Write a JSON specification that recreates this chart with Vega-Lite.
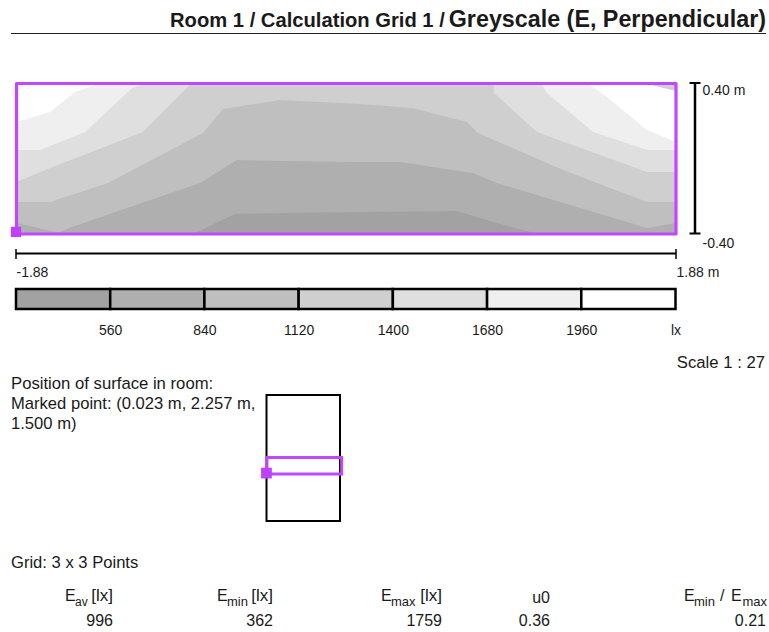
{"$schema":"https://vega.github.io/schema/vega-lite/v6.json","width":769,"height":632,"padding":0,"autosize":"none","background":"white",
"config":{"view":{"stroke":null},"text":{"font":"Liberation Sans","fontSize":16,"color":"#1a1a1a"},"axis":{"labelFont":"Liberation Sans","labelFontSize":16,"labelColor":"#1a1a1a","labelFontWeight":"normal"}},
"resolve":{"scale":{"x":"independent","y":"independent"}},
"layer":[
{"data":{"values":[
{"contour":1960,"x":-1.88,"y":0.195},{"contour":1960,"x":-1.689,"y":0.249},{"contour":1960,"x":-1.546,"y":0.355},{"contour":1960,"x":-1.432,"y":0.392},{"contour":1960,"x":-1.404,"y":0.40},{"contour":1960,"x":1.378,"y":0.40},{"contour":1960,"x":1.390,"y":0.392},{"contour":1960,"x":1.487,"y":0.328},{"contour":1960,"x":1.715,"y":0.153},{"contour":1960,"x":1.88,"y":0.089},
{"contour":1680,"x":-1.88,"y":0.047},{"contour":1680,"x":-1.746,"y":0.047},{"contour":1680,"x":-1.489,"y":0.142},{"contour":1680,"x":-1.221,"y":0.376},{"contour":1680,"x":-1.142,"y":0.40},{"contour":1680,"x":1.105,"y":0.40},{"contour":1680,"x":1.116,"y":0.392},{"contour":1680,"x":1.144,"y":0.350},{"contour":1680,"x":1.407,"y":0.142},{"contour":1680,"x":1.715,"y":0.047},{"contour":1680,"x":1.88,"y":0.047},
{"contour":1400,"x":-1.88,"y":-0.124},{"contour":1400,"x":-1.689,"y":-0.049},{"contour":1400,"x":-1.159,"y":0.142},{"contour":1400,"x":-0.891,"y":0.392},{"contour":1400,"x":-0.880,"y":0.40},{"contour":1400,"x":0.84,"y":0.40},{"contour":1400,"x":0.842,"y":0.35},{"contour":1400,"x":1.087,"y":0.142},{"contour":1400,"x":1.715,"y":-0.070},{"contour":1400,"x":1.88,"y":-0.070},
{"contour":1120,"x":-1.88,"y":-0.230},{"contour":1120,"x":-1.689,"y":-0.230},{"contour":1120,"x":-1.358,"y":-0.129},{"contour":1120,"x":-0.817,"y":0.137},{"contour":1120,"x":-0.703,"y":0.264},{"contour":1120,"x":-0.378,"y":0.312},{"contour":1120,"x":-0.150,"y":0.302},{"contour":1120,"x":0.078,"y":0.291},{"contour":1120,"x":0.375,"y":0.270},{"contour":1120,"x":0.688,"y":0.195},{"contour":1120,"x":0.751,"y":0.137},{"contour":1120,"x":1.236,"y":-0.060},{"contour":1120,"x":1.715,"y":-0.230},{"contour":1120,"x":1.88,"y":-0.230},
{"contour":840,"x":-1.88,"y":-0.342},{"contour":840,"x":-1.643,"y":-0.392},{"contour":840,"x":-1.564,"y":-0.363},{"contour":840,"x":-0.834,"y":-0.129},{"contour":840,"x":-0.623,"y":-0.007},{"contour":840,"x":-0.361,"y":-0.012},{"contour":840,"x":0.078,"y":-0.017},{"contour":840,"x":0.306,"y":-0.017},{"contour":840,"x":0.722,"y":-0.076},{"contour":840,"x":0.859,"y":-0.129},{"contour":840,"x":1.715,"y":-0.368},{"contour":840,"x":1.88,"y":-0.342},
{"contour":560,"x":-0.874,"y":-0.40},{"contour":560,"x":-0.634,"y":-0.294},{"contour":560,"x":-0.361,"y":-0.288},{"contour":560,"x":0.078,"y":-0.283},{"contour":560,"x":0.631,"y":-0.278},{"contour":560,"x":0.859,"y":-0.342},{"contour":560,"x":1.093,"y":-0.40}
]},
"mark":{"type":"area","orient":"vertical","interpolate":"linear","opacity":1},
"encoding":{"x":{"field":"x","type":"quantitative","sort":null,"scale":{"domain":[-1.88,1.88],"range":[16.5,676]},"axis":null},
"y":{"field":"y","type":"quantitative","scale":{"domain":[-0.4,0.4],"range":[234,83.5]},"axis":null},
"y2":{"datum":-0.4},
"detail":{"field":"contour"},
"fill":{"field":"contour","type":"nominal","legend":null,"sort":null,"scale":{"domain":[560,840,1120,1400,1680,1960,2240],"range":["#a2a2a2","#afafaf","#bfbfbf","#cfcfcf","#dfdfdf","#efefef","#ffffff"]}}}},
{"data":{"values":[{"x":1.703,"y":0.40},{"x":1.88,"y":0.36}]},
"mark":{"type":"area","orient":"vertical","fill":"#cfcfcf"},
"encoding":{"x":{"field":"x","type":"quantitative","scale":{"domain":[-1.88,1.88],"range":[16.5,676]},"axis":null},
"y":{"field":"y","type":"quantitative","scale":{"domain":[-0.4,0.4],"range":[234,83.5]},"axis":null},"y2":{"datum":0.4}}},
{"data":{"values":[{"x0":-1.88,"x1":1.88,"y0":-0.4,"y1":0.4}]},
"mark":{"type":"rect","fill":null,"stroke":"#c247ff","strokeWidth":3.2,"strokeJoin":"round"},
"encoding":{"x":{"field":"x0","type":"quantitative","scale":{"domain":[-1.88,1.88],"range":[16.5,676]},"axis":null},"x2":{"field":"x1"},
"y":{"field":"y0","type":"quantitative","scale":{"domain":[-0.4,0.4],"range":[234,83.5]},"axis":null},"y2":{"field":"y1"}}},
{"data":{"values":[{"x":-1.88,"y":-0.389}]},
"mark":{"type":"square","size":105,"opacity":1,"color":"#c040ff"},
"encoding":{"x":{"field":"x","type":"quantitative","scale":{"domain":[-1.88,1.88],"range":[16,676]},"axis":null},
"y":{"field":"y","type":"quantitative","scale":{"domain":[-0.4,0.4],"range":[234,83.5]},"axis":null}}},

{"data":{"values":[{"a":-0.4,"b":0.4}]},"mark":{"type":"rule","color":"#000","strokeWidth":2.5},
"encoding":{"y":{"field":"a","type":"quantitative","scale":{"domain":[-0.4,0.4],"range":[233.5,83]},"axis":null},"y2":{"field":"b"},
"x":{"datum":695,"type":"quantitative","scale":{"domain":[0,769]},"axis":null}}},
{"data":{"values":[{"end":-0.4},{"end":0.4}]},"mark":{"type":"rule","color":"#000","strokeWidth":2},
"encoding":{"y":{"field":"end","type":"quantitative","scale":{"domain":[-0.4,0.4],"range":[233.5,83]},
"axis":{"orient":"right","title":null,"values":[-0.4,0.4],"domain":false,"ticks":false,"grid":false,"labelAlign":"left","labelPadding":0,"offset":-67,"labelFontSize":14,"labelOffset":{"condition":{"test":"datum.value>0","value":7},"value":10},"labelExpr":"datum.value>0?'0.40 m':'-0.40'"}},
"x":{"datum":689.5,"type":"quantitative","scale":{"domain":[0,769]},"axis":null},"x2":{"datum":700.5}}},

{"data":{"values":[{"a":-1.88,"b":1.88}]},"mark":{"type":"rule","color":"#000","strokeWidth":2},
"encoding":{"x":{"field":"a","type":"quantitative","scale":{"domain":[-1.88,1.88],"range":[16,676]},"axis":null},"x2":{"field":"b"},
"y":{"datum":253.5,"type":"quantitative","scale":{"domain":[0,632],"range":[0,632]},"axis":null}}},
{"data":{"values":[{"end":-1.88},{"end":1.88}]},"mark":{"type":"rule","color":"#000","strokeWidth":1.5},
"encoding":{"x":{"field":"end","type":"quantitative","scale":{"domain":[-1.88,1.88],"range":[16,676]},
"axis":{"orient":"bottom","title":null,"values":[-1.88,1.88],"domain":false,"ticks":false,"grid":false,"labelAlign":"left","labelBaseline":"middle","labelPadding":0,"offset":-360,"labelFontSize":14,"labelFlush":false,"labelBound":false,"labelExpr":"datum.value>0?'1.88 m':'-1.88'"}},
"y":{"datum":249,"type":"quantitative","scale":{"domain":[0,632],"range":[0,632]},"axis":null},"y2":{"datum":259}}},

{"data":{"values":[{"lo":280,"hi":560},{"lo":560,"hi":840},{"lo":840,"hi":1120},{"lo":1120,"hi":1400},{"lo":1400,"hi":1680},{"lo":1680,"hi":1960},{"lo":1960,"hi":2240}]},
"mark":{"type":"rect","stroke":"#000","strokeWidth":2.5,"opacity":1},
"encoding":{"x":{"field":"lo","type":"quantitative","scale":{"domain":[280,2240],"range":[16,675.5]},
"axis":{"orient":"bottom","title":null,"values":[560,840,1120,1400,1680,1960,2240],"domain":false,"ticks":false,"grid":false,"labelAlign":"center","labelBaseline":"middle","labelPadding":0,"offset":-302,"labelFontSize":14,"labelFlush":false,"labelBound":false,"labelExpr":"datum.value==2240?'lx':datum.value"}},
"x2":{"field":"hi"},
"y":{"datum":289,"type":"quantitative","scale":{"domain":[0,632],"range":[0,632]},"axis":null},"y2":{"datum":309},
"fill":{"field":"hi","type":"nominal","legend":null,"sort":null,"scale":{"domain":[560,840,1120,1400,1680,1960,2240],"range":["#a2a2a2","#afafaf","#bfbfbf","#cfcfcf","#dfdfdf","#efefef","#ffffff"]}}}},

{"data":{"values":[{"x0":0,"x1":3.7,"y0":0,"y1":6.06}]},"mark":{"type":"rect","fill":null,"stroke":"#000","strokeWidth":2},
"encoding":{"x":{"field":"x0","type":"quantitative","scale":{"domain":[0,3.7],"range":[266.5,340]},"axis":null},"x2":{"field":"x1"},
"y":{"field":"y0","type":"quantitative","scale":{"domain":[0,6.06],"range":[521,395]},"axis":null},"y2":{"field":"y1"}}},
{"data":{"values":[{"x0":0.023,"x1":3.783,"y0":2.257,"y1":3.057}]},"mark":{"type":"rect","fill":null,"stroke":"#c247ff","strokeWidth":3},
"encoding":{"x":{"field":"x0","type":"quantitative","scale":{"domain":[0,3.7],"range":[266.5,340]},"axis":null},"x2":{"field":"x1"},
"y":{"field":"y0","type":"quantitative","scale":{"domain":[0,6.06],"range":[521,395]},"axis":null},"y2":{"field":"y1"}}},
{"data":{"values":[{"x":0.023,"y":2.257}]},"mark":{"type":"square","size":115,"opacity":1,"color":"#c040ff"},
"encoding":{"x":{"field":"x","type":"quantitative","scale":{"domain":[0,3.7],"range":[266,340]},"axis":null},
"y":{"field":"y","type":"quantitative","scale":{"domain":[0,6.06],"range":[520,394]},"axis":null}}},

{"data":{"values":[{"a":0,"b":769}]},"mark":{"type":"rule","color":"#222","strokeWidth":1},
"encoding":{"x":{"datum":11,"type":"quantitative","scale":{"domain":[0,769]},"axis":null},"x2":{"datum":766},
"y":{"datum":33.5,"type":"quantitative","scale":{"domain":[0,632],"range":[0,632]},"axis":null}}},

{"data":{"values":[{"label":"Room 1 / Calculation Grid 1 /"}]},"mark":{"type":"text","align":"left","baseline":"middle","fontWeight":"bold","fontSize":20.2},
"encoding":{"text":{"field":"label"},"x":{"datum":170,"type":"quantitative","scale":{"domain":[0,769]},"axis":null},"y":{"datum":21,"type":"quantitative","scale":{"domain":[0,632],"range":[0,632]},"axis":null}}},
{"data":{"values":[{"label":"Greyscale (E, Perpendicular)"}]},"mark":{"type":"text","align":"right","baseline":"middle","fontWeight":"bold","fontSize":23.3},
"encoding":{"text":{"field":"label"},"x":{"datum":766,"type":"quantitative","scale":{"domain":[0,769]},"axis":null},"y":{"datum":20,"type":"quantitative","scale":{"domain":[0,632],"range":[0,632]},"axis":null}}},
{"data":{"values":[{"label":"Scale 1 : 27"}]},"mark":{"type":"text","align":"right","baseline":"middle","fontSize":16.7},
"encoding":{"text":{"field":"label"},"x":{"datum":765,"type":"quantitative","scale":{"domain":[0,769]},"axis":null},"y":{"datum":363,"type":"quantitative","scale":{"domain":[0,632],"range":[0,632]},"axis":null}}},
{"data":{"values":[{"label":"Position of surface in room:"}]},"mark":{"type":"text","align":"left","baseline":"middle","fontSize":16.7},
"encoding":{"text":{"field":"label"},"x":{"datum":11,"type":"quantitative","scale":{"domain":[0,769]},"axis":null},"y":{"datum":384,"type":"quantitative","scale":{"domain":[0,632],"range":[0,632]},"axis":null}}},
{"data":{"values":[{"label":"Marked point: (0.023 m, 2.257 m,"}]},"mark":{"type":"text","align":"left","baseline":"middle","fontSize":16.6},
"encoding":{"text":{"field":"label"},"x":{"datum":11,"type":"quantitative","scale":{"domain":[0,769]},"axis":null},"y":{"datum":404,"type":"quantitative","scale":{"domain":[0,632],"range":[0,632]},"axis":null}}},
{"data":{"values":[{"label":"1.500 m)"}]},"mark":{"type":"text","align":"left","baseline":"middle","fontSize":16.6},
"encoding":{"text":{"field":"label"},"x":{"datum":11,"type":"quantitative","scale":{"domain":[0,769]},"axis":null},"y":{"datum":424,"type":"quantitative","scale":{"domain":[0,632],"range":[0,632]},"axis":null}}},
{"data":{"values":[{"label":"Grid: 3 x 3 Points"}]},"mark":{"type":"text","align":"left","baseline":"middle","fontSize":16.6},
"encoding":{"text":{"field":"label"},"x":{"datum":11,"type":"quantitative","scale":{"domain":[0,769]},"axis":null},"y":{"datum":563,"type":"quantitative","scale":{"domain":[0,632],"range":[0,632]},"axis":null}}},

{"data":{"values":[{"label":"E"}]},"mark":{"type":"text","align":"left","baseline":"middle"},
"encoding":{"text":{"field":"label"},"x":{"datum":65,"type":"quantitative","scale":{"domain":[0,769]},"axis":null},"y":{"datum":596,"type":"quantitative","scale":{"domain":[0,632],"range":[0,632]},"axis":null}}},
{"data":{"values":[{"label":"av"}]},"mark":{"type":"text","align":"left","baseline":"middle","fontSize":12},
"encoding":{"text":{"field":"label"},"x":{"datum":75,"type":"quantitative","scale":{"domain":[0,769]},"axis":null},"y":{"datum":602,"type":"quantitative","scale":{"domain":[0,632],"range":[0,632]},"axis":null}}},
{"data":{"values":[{"label":"[lx]"}]},"mark":{"type":"text","align":"right","baseline":"middle","fontSize":17},
"encoding":{"text":{"field":"label"},"x":{"datum":113,"type":"quantitative","scale":{"domain":[0,769]},"axis":null},"y":{"datum":596,"type":"quantitative","scale":{"domain":[0,632],"range":[0,632]},"axis":null}}},
{"data":{"values":[{"label":"996"}]},"mark":{"type":"text","align":"right","baseline":"middle"},
"encoding":{"text":{"field":"label"},"x":{"datum":113,"type":"quantitative","scale":{"domain":[0,769]},"axis":null},"y":{"datum":621,"type":"quantitative","scale":{"domain":[0,632],"range":[0,632]},"axis":null}}},

{"data":{"values":[{"label":"E"}]},"mark":{"type":"text","align":"left","baseline":"middle"},
"encoding":{"text":{"field":"label"},"x":{"datum":217,"type":"quantitative","scale":{"domain":[0,769]},"axis":null},"y":{"datum":596,"type":"quantitative","scale":{"domain":[0,632],"range":[0,632]},"axis":null}}},
{"data":{"values":[{"label":"min"}]},"mark":{"type":"text","align":"left","baseline":"middle","fontSize":13},
"encoding":{"text":{"field":"label"},"x":{"datum":227,"type":"quantitative","scale":{"domain":[0,769]},"axis":null},"y":{"datum":602,"type":"quantitative","scale":{"domain":[0,632],"range":[0,632]},"axis":null}}},
{"data":{"values":[{"label":"[lx]"}]},"mark":{"type":"text","align":"right","baseline":"middle","fontSize":17},
"encoding":{"text":{"field":"label"},"x":{"datum":273,"type":"quantitative","scale":{"domain":[0,769]},"axis":null},"y":{"datum":596,"type":"quantitative","scale":{"domain":[0,632],"range":[0,632]},"axis":null}}},
{"data":{"values":[{"label":"362"}]},"mark":{"type":"text","align":"right","baseline":"middle"},
"encoding":{"text":{"field":"label"},"x":{"datum":273,"type":"quantitative","scale":{"domain":[0,769]},"axis":null},"y":{"datum":621,"type":"quantitative","scale":{"domain":[0,632],"range":[0,632]},"axis":null}}},

{"data":{"values":[{"label":"E"}]},"mark":{"type":"text","align":"left","baseline":"middle"},
"encoding":{"text":{"field":"label"},"x":{"datum":381,"type":"quantitative","scale":{"domain":[0,769]},"axis":null},"y":{"datum":596,"type":"quantitative","scale":{"domain":[0,632],"range":[0,632]},"axis":null}}},
{"data":{"values":[{"label":"max"}]},"mark":{"type":"text","align":"left","baseline":"middle","fontSize":13},
"encoding":{"text":{"field":"label"},"x":{"datum":391,"type":"quantitative","scale":{"domain":[0,769]},"axis":null},"y":{"datum":602,"type":"quantitative","scale":{"domain":[0,632],"range":[0,632]},"axis":null}}},
{"data":{"values":[{"label":"[lx]"}]},"mark":{"type":"text","align":"right","baseline":"middle","fontSize":17},
"encoding":{"text":{"field":"label"},"x":{"datum":442,"type":"quantitative","scale":{"domain":[0,769]},"axis":null},"y":{"datum":596,"type":"quantitative","scale":{"domain":[0,632],"range":[0,632]},"axis":null}}},
{"data":{"values":[{"label":"1759"}]},"mark":{"type":"text","align":"right","baseline":"middle"},
"encoding":{"text":{"field":"label"},"x":{"datum":442,"type":"quantitative","scale":{"domain":[0,769]},"axis":null},"y":{"datum":621,"type":"quantitative","scale":{"domain":[0,632],"range":[0,632]},"axis":null}}},

{"data":{"values":[{"label":"u0"}]},"mark":{"type":"text","align":"right","baseline":"middle"},
"encoding":{"text":{"field":"label"},"x":{"datum":550,"type":"quantitative","scale":{"domain":[0,769]},"axis":null},"y":{"datum":598,"type":"quantitative","scale":{"domain":[0,632],"range":[0,632]},"axis":null}}},
{"data":{"values":[{"label":"0.36"}]},"mark":{"type":"text","align":"right","baseline":"middle"},
"encoding":{"text":{"field":"label"},"x":{"datum":550,"type":"quantitative","scale":{"domain":[0,769]},"axis":null},"y":{"datum":621,"type":"quantitative","scale":{"domain":[0,632],"range":[0,632]},"axis":null}}},

{"data":{"values":[{"label":"E"}]},"mark":{"type":"text","align":"left","baseline":"middle"},
"encoding":{"text":{"field":"label"},"x":{"datum":684,"type":"quantitative","scale":{"domain":[0,769]},"axis":null},"y":{"datum":596,"type":"quantitative","scale":{"domain":[0,632],"range":[0,632]},"axis":null}}},
{"data":{"values":[{"label":"min"}]},"mark":{"type":"text","align":"left","baseline":"middle","fontSize":13},
"encoding":{"text":{"field":"label"},"x":{"datum":694,"type":"quantitative","scale":{"domain":[0,769]},"axis":null},"y":{"datum":602,"type":"quantitative","scale":{"domain":[0,632],"range":[0,632]},"axis":null}}},
{"data":{"values":[{"label":"/"}]},"mark":{"type":"text","align":"left","baseline":"middle"},
"encoding":{"text":{"field":"label"},"x":{"datum":720,"type":"quantitative","scale":{"domain":[0,769]},"axis":null},"y":{"datum":596,"type":"quantitative","scale":{"domain":[0,632],"range":[0,632]},"axis":null}}},
{"data":{"values":[{"label":"E"}]},"mark":{"type":"text","align":"left","baseline":"middle"},
"encoding":{"text":{"field":"label"},"x":{"datum":731,"type":"quantitative","scale":{"domain":[0,769]},"axis":null},"y":{"datum":596,"type":"quantitative","scale":{"domain":[0,632],"range":[0,632]},"axis":null}}},
{"data":{"values":[{"label":"max"}]},"mark":{"type":"text","align":"right","baseline":"middle","fontSize":13},
"encoding":{"text":{"field":"label"},"x":{"datum":767,"type":"quantitative","scale":{"domain":[0,769]},"axis":null},"y":{"datum":602,"type":"quantitative","scale":{"domain":[0,632],"range":[0,632]},"axis":null}}},
{"data":{"values":[{"label":"0.21"}]},"mark":{"type":"text","align":"right","baseline":"middle"},
"encoding":{"text":{"field":"label"},"x":{"datum":766,"type":"quantitative","scale":{"domain":[0,769]},"axis":null},"y":{"datum":621,"type":"quantitative","scale":{"domain":[0,632],"range":[0,632]},"axis":null}}}
]}
